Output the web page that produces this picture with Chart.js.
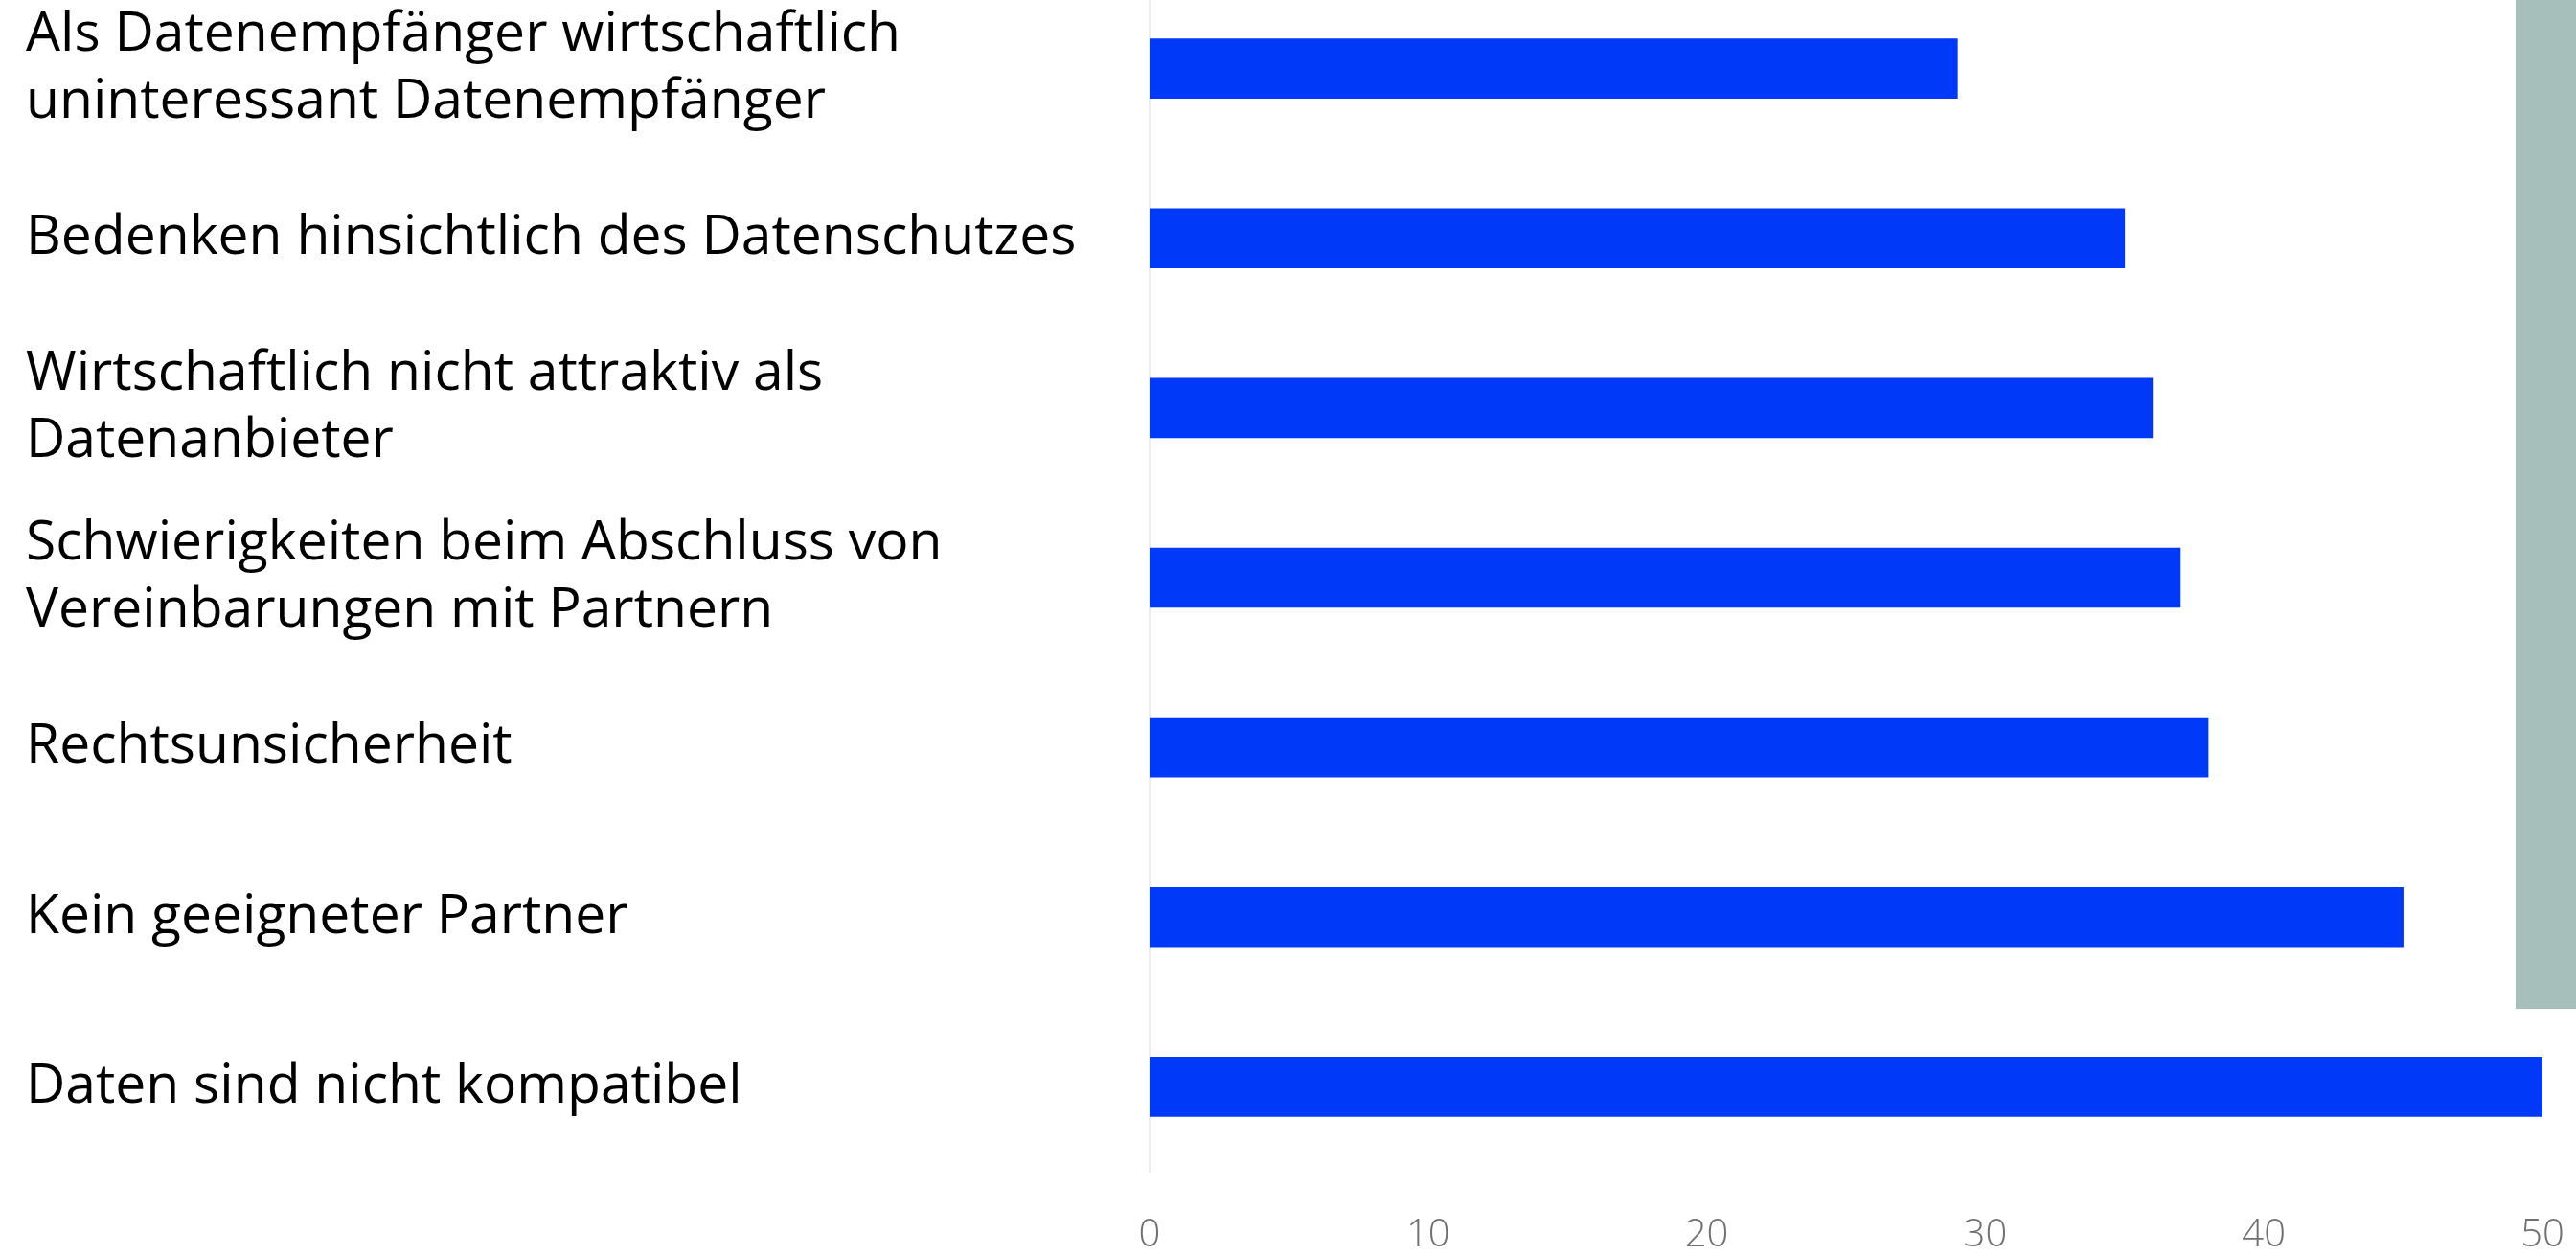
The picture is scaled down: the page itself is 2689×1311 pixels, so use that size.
<!DOCTYPE html>
<html>
<head>
<meta charset="utf-8">
<script src="https://cdn.jsdelivr.net/npm/chart.js@4.4.1/dist/chart.umd.min.js"></script>
<style>
  html, body { margin: 0; padding: 0; background: #ffffff; overflow: hidden; }
  #wrap { position: relative; width: 2689px; height: 1311px; overflow: hidden; background: #fff; }
  #holder { position: absolute; left: 0; top: -17px; width: 2689px; height: 1330px; }
  #side { position: absolute; left: 2626px; top: 0; width: 63px; height: 1053px; background: #a7bfbb; }
</style>
</head>
<body>
<div id="wrap">
  <div id="holder"><canvas id="c" width="2689" height="1330"></canvas></div>
  <div id="side"></div>
</div>
<script>
const categories = [
  ["Als Datenempfänger wirtschaftlich", "uninteressant Datenempfänger"],
  "Bedenken hinsichtlich des Datenschutzes",
  ["Wirtschaftlich nicht attraktiv als", "Datenanbieter"],
  ["Schwierigkeiten beim Abschluss von", "Vereinbarungen mit Partnern"],
  "Rechtsunsicherheit",
  "Kein geeigneter Partner",
  "Daten sind nicht kompatibel"
];
const values = [29, 35, 36, 37, 38, 45, 50];
const xTicks = [0, 10, 20, 30, 40, 50];

new Chart(document.getElementById('c'), {
  type: 'bar',
  data: {
    labels: categories,
    datasets: [{
      data: values,
      backgroundColor: '#0039f7',
      borderWidth: 0,
      barThickness: 62
    }]
  },
  options: {
    indexAxis: 'y',
    responsive: false,
    animation: false,
    devicePixelRatio: 1,
    layout: { padding: { left: 27, right: 35, top: 0, bottom: 0 } },
    plugins: { legend: { display: false }, tooltip: { enabled: false } },
    scales: {
      x: {
        min: xTicks[0],
        max: xTicks[xTicks.length - 1],
        afterBuildTicks: s => { s.ticks = xTicks.map(v => ({ value: v })); },
        afterFit: s => { s.height = 90; s.paddingLeft = 0; s.paddingRight = 0; },
        grid: { display: false, drawTicks: false },
        border: { display: false },
        ticks: {
          padding: 43,
          color: '#707070',
          font: { family: 'Open Sans', size: 40, weight: 300 }
        }
      },
      y: {
        offset: true,
        afterFit: s => { s.width = 1173; s.paddingTop = 0; s.paddingBottom = 0; },
        grid: { display: false, drawTicks: false },
        border: { display: true, color: '#eeeeee', width: 3 },
        ticks: {
          crossAlign: 'far',
          padding: 0,
          color: '#000000',
          font: { family: 'Open Sans', size: 57, lineHeight: 1.22 }
        }
      }
    }
  }
});
</script>
</body>
</html>
